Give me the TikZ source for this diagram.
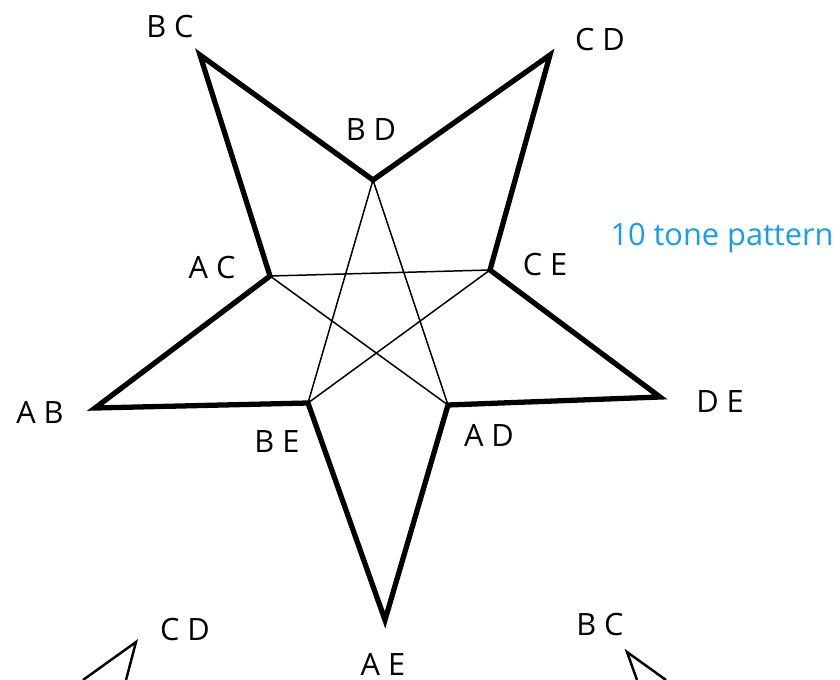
\documentclass[tikz,border=0pt]{standalone}
\usepackage{fontspec}
\setmainfont{Open Sans}
\usetikzlibrary{positioning}
\definecolor{cNote}{HTML}{1A9BF0}
\tikzset{
  tip/.style={font=\fontsize{17.5}{20}\selectfont,inner sep=1pt},
  outline/.style={line width=3pt,line join=miter},
  chord/.style={line width=0.85pt},
  frag/.style={line width=1.4pt},
  note/.style={font=\fontsize{17.5}{20}\selectfont,text=cNote,inner sep=1pt}}
\begin{document}
\begin{tikzpicture}[x=0.02cm,y=-0.02cm]
\useasboundingbox (0,0) rectangle (840,680);
% outer points
\coordinate (bc) at (200,55);
\coordinate (cd) at (550,55);
\coordinate (de) at (660,397);
\coordinate (ae) at (385,620);
\coordinate (ab) at (95,408);
% inner points
\coordinate (bd) at (373,180);
\coordinate (ce) at (490,270);
\coordinate (ad) at (448,405);
\coordinate (be) at (308,403);
\coordinate (ac) at (270,276);
% star
\draw[outline] (bc)--(bd)--(cd)--(ce)--(de)--(ad)--(ae)--(be)--(ab)--(ac)--cycle;
% inner pentagram
\draw[chord] (ac)--(ce)--(be)--(bd)--(ad)--(ac);
% labels
\node[tip] (lbc) at (170,27) {B C};
\node[tip] (lcd) at (600,40) {C D};
\node[tip] (lbd) at (371,130) {B D};
\node[tip] (lac) at (212,268) {A C};
\node[tip] (lce) at (545,265) {C E};
\node[tip] (lab) at (40,412) {A B};
\node[tip] (lde) at (720,402) {D E};
\node[tip] (lbe) at (277,442) {B E};
\node[tip] (lad) at (489,435) {A D};
\node[tip] (lae) at (383,664) {A E};
\node[note] (title) at (722,238) {10 tone pattern};
% next stars, cut off at the bottom
\coordinate (lt) at (136,642);
\coordinate (lt1) at (83,680);
\coordinate (lt2) at (126,680);
\draw[frag] (lt1)--(lt)--(lt2);
\node[tip] (lcd2) at (185,630) {C D};
\coordinate (rt) at (627,652);
\coordinate (rt1) at (666,680);
\coordinate (rt2) at (637,680);
\draw[frag] (rt1)--(rt)--(rt2);
\node[tip] (lbc2) at (600,625) {B C};
\end{tikzpicture}
\end{document}
